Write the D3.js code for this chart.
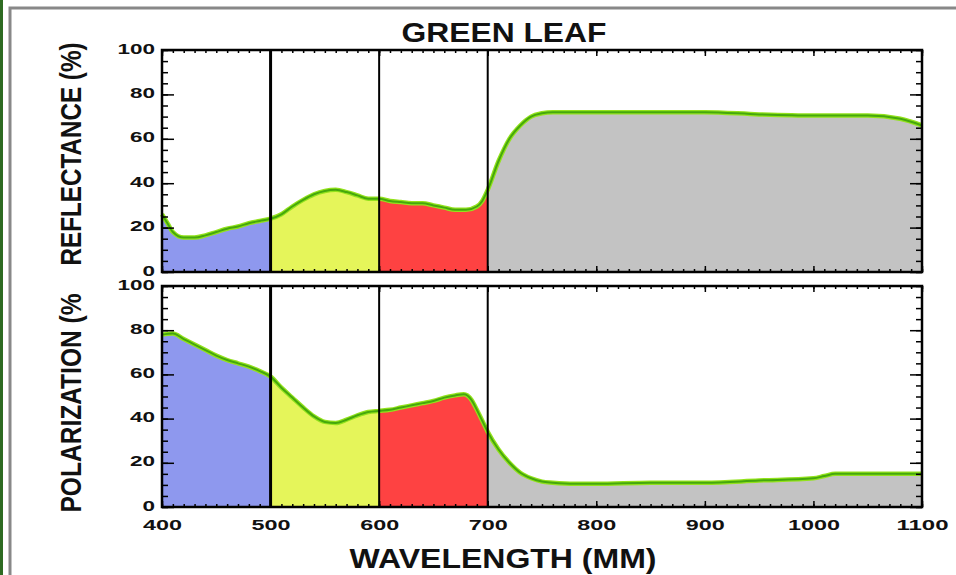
<!DOCTYPE html>
<html>
<head>
<meta charset="utf-8">
<script src="https://cdn.jsdelivr.net/npm/d3@7"></script>
<style>
  body { margin: 0; background: #fff; }
  svg { display: block; }
  text { font-family: "Liberation Sans", Arial, sans-serif; }
</style>
</head>
<body>
<svg id="chart" width="956" height="575"></svg>
<script>
// wavelengths (nm) and values
const reflWave = [400, 405, 410, 420, 430, 440, 450, 460, 470, 480, 490, 500, 510, 520, 530, 540, 550, 560, 570, 580, 590, 600,
  610, 620, 630, 640, 650, 660, 670, 680, 690, 695, 700, 710, 720, 730, 740, 750, 760, 800, 850, 900, 950, 1000, 1050, 1080, 1100];
const reflValues = [26, 22, 18, 15.5, 15.5, 16.5, 18, 19.5, 20.5, 22, 23, 24, 26, 29.5, 32.5, 35, 36.5, 37, 36, 34.5, 33, 33,
  32, 31.5, 31, 31, 30, 29, 28, 28, 29.5, 32, 37, 50, 60, 66, 70, 71.5, 72, 72, 72, 72, 71, 70.5, 70.5, 69, 66];

const polWave = [400, 410, 420, 430, 440, 450, 460, 470, 480, 490, 500, 510, 520, 530, 540, 550, 560, 570, 580, 590, 600,
  610, 620, 630, 640, 650, 660, 670, 678, 685, 690, 695, 700, 710, 720, 730, 740, 750, 760, 780, 800, 850, 900, 950, 1000, 1010, 1020, 1050, 1100];
const polValues = [78, 78.5, 76, 73.5, 71, 68.5, 66.5, 65, 63.5, 61.5, 59, 54, 49.5, 45, 41, 38.5, 38, 39.5, 41.5, 43, 43.5,
  44, 45, 46, 47, 48, 49.5, 50.5, 51, 48.5, 44, 39, 34, 26, 20, 15.5, 13, 11.5, 11, 10.5, 10.5, 11, 11, 12, 13, 14, 15, 15, 15];

const bands = [[400, 500], [500, 600], [600, 700], [700, 1100]];
const bandColors = ["#8e98ee", "#e5f55a", "#fe4242", "#c3c3c3"];
const dividers = [500, 600, 700];
const yTicks = [0, 20, 40, 60, 80, 100];
const xTicks = [400, 500, 600, 700, 800, 900, 1000, 1100];

const svg = d3.select("#chart");
svg.append("rect").attr("width", 956).attr("height", 575).attr("fill", "#fff");

// outer frame
svg.append("rect").attr("x", 0).attr("y", 0).attr("width", 3).attr("height", 575).attr("fill", "#2e6b22");
svg.append("path").attr("d", "M10,575V8H956").attr("fill", "none").attr("stroke", "#888").attr("stroke-width", 3);

const x = d3.scaleLinear().domain([400, 1100]).range([162, 922]);

const panels = [
  { wave: reflWave, vals: reflValues, top: 50, bottom: 272, title: "REFLECTANCE (%)", tlen: 223, tcy: 154 },
  { wave: polWave, vals: polValues, top: 286, bottom: 507, title: "POLARIZATION (%", tlen: 219, tcy: 403 }
];

panels.forEach(p => {
  const y = d3.scaleLinear().domain([0, 100]).range([p.bottom, p.top]);
  const data = p.wave.map((w, i) => ({ x: w, y: p.vals[i] }));
  const g = svg.append("g");

  const area = d3.area().x(d => x(d.x)).y0(y(0)).y1(d => y(d.y)).curve(d3.curveMonotoneX);
  bands.forEach((b, i) => {
    g.append("path")
      .datum(data.filter(d => d.x >= b[0] && d.x <= b[1]))
      .attr("d", area)
      .attr("fill", bandColors[i]);
  });

  const line = d3.line().x(d => x(d.x)).y(d => y(d.y)).curve(d3.curveMonotoneX);
  g.append("path").datum(data).attr("d", line).attr("fill", "none")
    .attr("stroke", "#93e21c").attr("stroke-width", 4.5);
  g.append("path").datum(data).attr("d", line).attr("fill", "none")
    .attr("stroke", "#45a80c").attr("stroke-width", 2);

  dividers.forEach(v => {
    g.append("line").attr("x1", x(v)).attr("x2", x(v)).attr("y1", p.top).attr("y2", p.bottom)
      .attr("stroke", "#000").attr("stroke-width", v === 500 ? 3 : 2);
  });

  // axes, ticks pointing inward
  const minorY = d3.range(0, 101, 5);
  const minorX = d3.range(400, 1101, 10);
  const addAxis = (axis, tr) => {
    const a = g.append("g").attr("transform", tr).call(axis);
    a.select(".domain").remove();
    a.selectAll("line").attr("stroke", "#000").attr("stroke-width", 1.5);
    return a;
  };
  addAxis(d3.axisLeft(y).tickValues(minorY).tickSize(-6).tickFormat(""), `translate(${x(400)},0)`);
  addAxis(d3.axisRight(y).tickValues(minorY).tickSize(-6).tickFormat(""), `translate(${x(1100)},0)`);
  const left = addAxis(d3.axisLeft(y).tickValues(yTicks).tickSize(-12).tickPadding(7), `translate(${x(400)},0)`);
  left.selectAll("text")
    .attr("font-size", 15).attr("font-weight", "bold").attr("fill", "#111")
    .attr("dy", "0.2em")
    .attr("textLength", d => String(d).length * 12.5)
    .attr("lengthAdjust", "spacingAndGlyphs");
  addAxis(d3.axisRight(y).tickValues(yTicks).tickSize(-12).tickFormat(""), `translate(${x(1100)},0)`);
  addAxis(d3.axisBottom(x).tickValues(minorX).tickSize(-3).tickFormat(""), `translate(0,${p.bottom})`);
  addAxis(d3.axisTop(x).tickValues(minorX).tickSize(-3).tickFormat(""), `translate(0,${p.top})`);
  addAxis(d3.axisBottom(x).tickValues(xTicks).tickSize(-6).tickFormat(""), `translate(0,${p.bottom})`);
  addAxis(d3.axisTop(x).tickValues(xTicks).tickSize(-6).tickFormat(""), `translate(0,${p.top})`);

  g.append("rect").attr("x", x(400)).attr("y", p.top).attr("width", x(1100) - x(400)).attr("height", p.bottom - p.top)
    .attr("fill", "none").attr("stroke", "#000").attr("stroke-width", 2.5);

  svg.append("text")
    .attr("transform", `translate(81,${p.tcy}) rotate(-90)`)
    .attr("text-anchor", "middle")
    .attr("font-size", 29).attr("font-weight", "bold").attr("fill", "#111")
    .attr("textLength", p.tlen).attr("lengthAdjust", "spacingAndGlyphs")
    .text(p.title);
});

// x tick labels under the lower panel
const xLab = svg.append("g").attr("transform", "translate(0,507)")
  .call(d3.axisBottom(x).tickValues(xTicks).tickSize(0).tickPadding(12).tickFormat(d3.format("d")));
xLab.select(".domain").remove();
xLab.selectAll("text")
  .attr("font-size", 15).attr("font-weight", "bold").attr("fill", "#111")
  .attr("textLength", d => String(d).length * 13)
  .attr("lengthAdjust", "spacingAndGlyphs");

svg.append("text").attr("x", 504).attr("y", 42).attr("text-anchor", "middle")
  .attr("font-size", 28).attr("font-weight", "bold").attr("fill", "#111")
  .attr("textLength", 205).attr("lengthAdjust", "spacingAndGlyphs")
  .text("GREEN LEAF");

svg.append("text").attr("x", 503).attr("y", 568).attr("text-anchor", "middle")
  .attr("font-size", 28).attr("font-weight", "bold").attr("fill", "#111")
  .attr("textLength", 307).attr("lengthAdjust", "spacingAndGlyphs")
  .text("WAVELENGTH (MM)");
</script>
</body>
</html>
